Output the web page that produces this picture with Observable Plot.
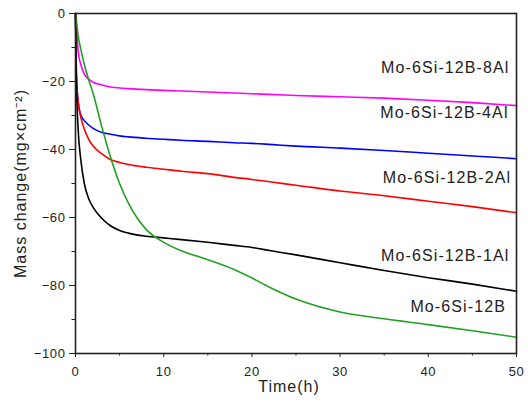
<!DOCTYPE html>
<html>
<head>
<meta charset="utf-8">
<script src="https://cdn.jsdelivr.net/npm/d3@7"></script>
<script src="https://cdn.jsdelivr.net/npm/@observablehq/plot@0.6"></script>
<style>
  html, body { margin: 0; padding: 0; background: #fff; }
</style>
</head>
<body>
<div id="chart"></div>
<script>
// Time (h)
const time = [0, 0.1, 0.3, 0.6, 1, 1.5, 2, 3, 4, 5, 6, 8, 10, 12, 15, 18, 20, 22, 25, 30, 35, 40, 45, 50];
// Mass change (mg/cm^2) per alloy
const al8 = [0, -4, -11, -15, -17.8, -19.3, -20.2, -21, -21.6, -21.9, -22.1, -22.4, -22.6, -22.8, -23.1, -23.4, -23.6, -23.8, -24.1, -24.5, -24.9, -25.5, -26.2, -27.1];
const al4 = [0, -18, -26, -29.8, -31.5, -32.8, -33.8, -35, -35.5, -36, -36.3, -36.7, -37, -37.3, -37.6, -38, -38.2, -38.5, -39, -39.6, -40.3, -41.1, -41.9, -42.7];
const al2 = [0, -18, -26, -30.5, -34, -37, -39, -41.3, -43, -43.8, -44.4, -45.2, -45.8, -46.4, -47.1, -48.2, -48.8, -49.5, -50.5, -52.2, -53.6, -55.2, -56.8, -58.6];
const al1 = [0, -20, -34, -43, -50, -54.5, -57, -60.3, -62.5, -63.8, -64.6, -65.5, -66, -66.5, -67.3, -68.2, -68.8, -69.7, -71, -73.3, -75.6, -77.7, -79.6, -81.7];
const al0 = [0, -2, -6.5, -10.5, -15, -19.5, -23.5, -33.5, -42.5, -50, -55.8, -63.5, -67.3, -69.8, -72.4, -75.3, -77.8, -80.5, -84, -87.8, -89.8, -91.5, -93.3, -95.2];

const seriesNames = ["Mo-6Si-12B-8Al", "Mo-6Si-12B-4Al", "Mo-6Si-12B-2Al", "Mo-6Si-12B-1Al", "Mo-6Si-12B"];
const seriesValues = [al8, al4, al2, al1, al0];
const seriesColors = ["#ff00ff", "#0000ff", "#ff0000", "#000000", "#22a022"];
// label anchor positions in data units
const labelX = [49.2, 49.1, 49.4, 49.2, 48.8];
const labelY = [-16, -29.3, -48.4, -71.2, -86.2];

const xMajor = [0, 10, 20, 30, 40, 50];
const xMinor = [5, 15, 25, 35, 45];
const yMajor = [0, -20, -40, -60, -80, -100];
const yMinor = [-10, -30, -50, -70, -90];

const xTitle = "Time(h)";
const yTitle = "Mass change(mg×cm⁻²)";

const rows = [];
seriesNames.forEach((name, i) => {
  time.forEach((t, j) => rows.push({series: name, t, v: seriesValues[i][j]}));
});
const labels = seriesNames.map((name, i) => ({name, x: labelX[i], y: labelY[i]}));

const font = "'Liberation Sans', Arial, sans-serif";
const ink = "#222";

const chart = Plot.plot({
  width: 528,
  height: 405,
  marginLeft: 75,
  marginRight: 12,
  marginTop: 13,
  marginBottom: 52,
  style: {background: "#fff", fontFamily: font, color: ink, fontSize: "13px"},
  x: {domain: [0, 50]},
  y: {domain: [-100, 0]},
  color: {domain: seriesNames, range: seriesColors},
  marks: [
    Plot.line(rows, {x: "t", y: "v", z: "series", stroke: "series", strokeWidth: 1.6, curve: "monotone-x"}),
    Plot.frame({stroke: ink, strokeWidth: 1.6}),
    Plot.axisX({ticks: xMajor, tickSize: 4, tickPadding: 9, fontSize: 13, label: null, stroke: ink}),
    Plot.axisX({ticks: xMinor, tickSize: 2.5, text: null, label: null, stroke: ink}),
    Plot.axisY({ticks: yMajor, tickSize: 6, tickPadding: 4, fontSize: 13, label: null, stroke: ink}),
    Plot.axisY({ticks: yMinor, tickSize: 3.5, text: null, stroke: ink, label: yTitle, labelAnchor: "center", labelOffset: 61, labelArrow: "none", fontSize: 16}),
    Plot.text(labels, {x: "x", y: "y", text: "name", textAnchor: "end", fontSize: 16, fill: "#222"}),
    Plot.text([xTitle], {frameAnchor: "bottom", dy: 33, dx: -7, lineAnchor: "middle", textAnchor: "middle", fontSize: 16, fill: "#222"})
  ]
});

// text widening to match the stretched lettering of the original figure
let yTitleEl = null;
d3.select(chart).selectAll("text").each(function() {
  const s = this.textContent;
  const el = d3.select(this);
  if (seriesNames.includes(s)) {
    el.attr("letter-spacing", "1.1px");
  } else if (s === xTitle || s === yTitle) {
    el.attr("letter-spacing", "1px").attr("font-size", 16);
    if (s === yTitle) yTitleEl = this;
  } else {
    el.attr("letter-spacing", "0.6px");
  }
});

document.getElementById("chart").appendChild(chart);

// make sure the rotated y title is centred on the plot frame
if (yTitleEl) {
  const frameEl = chart.querySelector('g[aria-label="frame"] rect') || chart.querySelector('rect[fill="none"]');
  const svgBox = chart.getBoundingClientRect();
  let midY = 183;
  if (frameEl) {
    const fb = frameEl.getBoundingClientRect();
    midY = (fb.top + fb.bottom) / 2 - svgBox.top;
  }
  const tb = yTitleEl.getBoundingClientRect();
  const curMid = (tb.top + tb.bottom) / 2 - svgBox.top;
  const shift = midY - curMid;
  if (Math.abs(shift) > 0.5) {
    const wrap = document.createElementNS("http://www.w3.org/2000/svg", "g");
    wrap.setAttribute("transform", `translate(0,${shift})`);
    yTitleEl.parentNode.insertBefore(wrap, yTitleEl);
    wrap.appendChild(yTitleEl);
  }
}
</script>
</body>
</html>
